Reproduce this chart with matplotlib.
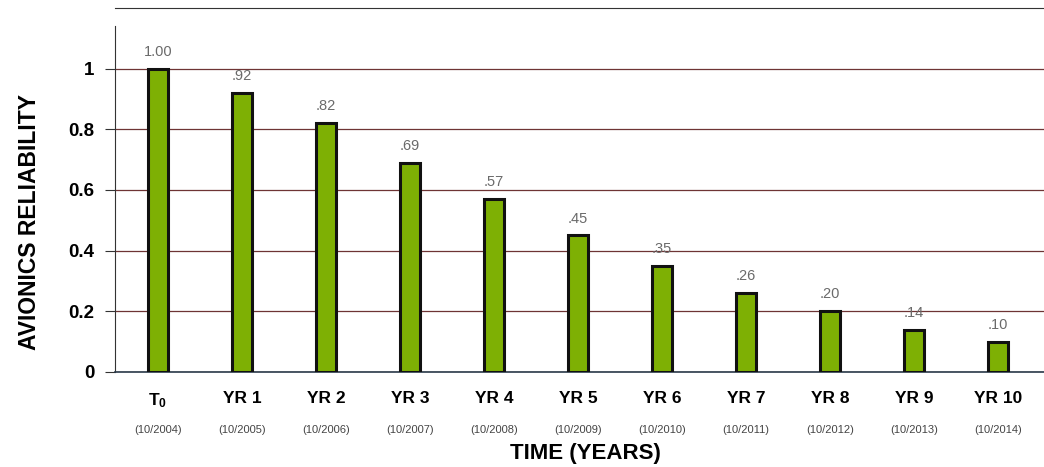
import numpy as np
import matplotlib.pyplot as plt
import matplotlib.transforms as mtransforms

plt.rcParams['font.family'] = ['Liberation Sans', 'DejaVu Sans']
plt.rcParams['mathtext.fontset'] = 'custom'
plt.rcParams['mathtext.rm'] = 'Liberation Sans'
plt.rcParams['mathtext.bf'] = 'Liberation Sans:bold'

periods = [r"$\mathbf{T_0}$", "YR 1", "YR 2", "YR 3", "YR 4", "YR 5",
           "YR 6", "YR 7", "YR 8", "YR 9", "YR 10"]
dates = ["(10/2004)", "(10/2005)", "(10/2006)", "(10/2007)", "(10/2008)",
         "(10/2009)", "(10/2010)", "(10/2011)", "(10/2012)", "(10/2013)", "(10/2014)"]
reliability = [1.00, 0.92, 0.82, 0.69, 0.57, 0.45, 0.35, 0.26, 0.20, 0.14, 0.10]
value_labels = ["1.00", ".92", ".82", ".69", ".57", ".45", ".35", ".26", ".20", ".14", ".10"]

W, H = 1044, 467
fig = plt.figure(figsize=(W / 100, H / 100), dpi=100)
ax = fig.add_axes([115 / W, (H - 372) / H, (W - 115) / W, (372 - 8) / H])

x = np.arange(len(reliability))
ax.bar(x, reliability, width=0.24, color='#7eb004', edgecolor='#111111',
       linewidth=2.2, zorder=3)

for xi, v, lab in zip(x, reliability, value_labels):
    ax.text(xi, v + 0.056, lab, ha='center', va='center', fontsize=10.5,
            color='#6a6a6a', zorder=4)

ax.set_xlim(-0.51, 10.55)
ax.set_ylim(0, 1.2)
ax.set_yticks([0, 0.2, 0.4, 0.6, 0.8, 1.0])
ax.set_yticklabels(["0", "0.2", "0.4", "0.6", "0.8", "1"], fontsize=13.5,
                   fontweight='bold')
ax.yaxis.grid(True, color='#6e3434', linewidth=0.9, zorder=0)
ax.tick_params(axis='y', length=7, color='#333333', pad=8)

ax.set_xticks(x)
ax.set_xticklabels(periods, fontsize=12.5, fontweight='bold')
ax.tick_params(axis='x', length=0, pad=14)

# date line under each period label
trans = mtransforms.blended_transform_factory(ax.transData, fig.transFigure)
for xi, d in zip(x, dates):
    ax.text(xi, (H - 430) / H, d, ha='center', va='center', fontsize=8,
            color='#444444', transform=trans)

fig.text(585 / W, (H - 453) / H, "TIME (YEARS)", ha='center', va='center',
         fontsize=16, fontweight='bold')
fig.text(30 / W, (H - 222) / H, "AVIONICS RELIABILITY", ha='center',
         va='center', rotation=90, fontsize=16.5, fontweight='bold')

ax.spines['right'].set_visible(False)
ax.spines['top'].set_color('#333333')
ax.spines['left'].set_bounds(0, 1.14)
ax.spines['left'].set_color('#333333')
ax.spines['bottom'].set_color('#2a3a4a')
ax.spines['bottom'].set_linewidth(1.2)

fig.savefig("out.png", dpi=100)
